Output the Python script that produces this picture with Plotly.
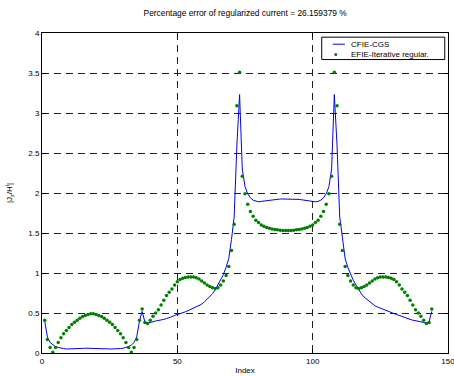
import plotly.graph_objects as go

idx = list(range(1, 145))

cfie_cgs = [
    0.40, 0.20, 0.13, 0.10, 0.08, 0.07, 0.06, 0.055, 0.05, 0.05, 0.05, 0.05,
    0.052, 0.055, 0.058, 0.06, 0.06, 0.06, 0.06, 0.06, 0.06, 0.058, 0.055, 0.052,
    0.05, 0.05, 0.05, 0.05, 0.055, 0.06, 0.07, 0.08, 0.10, 0.13, 0.20, 0.40,
    0.52, 0.39, 0.375, 0.38, 0.39, 0.40, 0.405, 0.41, 0.42, 0.43, 0.44, 0.455,
    0.47, 0.48, 0.49, 0.50, 0.515, 0.53, 0.545, 0.56, 0.575, 0.59, 0.61, 0.64,
    0.67, 0.70, 0.74, 0.79, 0.85, 0.91, 0.98, 1.07, 1.18, 1.42, 1.70, 2.60,
    3.23, 2.30, 2.08, 1.99, 1.94, 1.91, 1.895, 1.89, 1.895, 1.90, 1.905, 1.91,
    1.915, 1.92, 1.925, 1.925, 1.925, 1.925,
    1.925, 1.925, 1.925, 1.925, 1.92, 1.915, 1.91, 1.905, 1.90, 1.895, 1.89, 1.895,
    1.91, 1.94, 1.99, 2.08, 2.30, 3.23, 2.60, 1.70, 1.42, 1.18, 1.07, 0.98,
    0.91, 0.85, 0.79, 0.74, 0.70, 0.67, 0.64, 0.61, 0.59, 0.575, 0.56, 0.545,
    0.53, 0.515, 0.50, 0.49, 0.48, 0.47, 0.455, 0.44, 0.43, 0.42, 0.41, 0.405,
    0.40, 0.39, 0.38, 0.375, 0.39, 0.52,
]

efie_iter = [
    0.41, 0.17, 0.07, 0.01, 0.07, 0.13, 0.19, 0.24, 0.28, 0.32, 0.355, 0.385,
    0.41, 0.435, 0.455, 0.47, 0.48, 0.49, 0.49, 0.48, 0.47, 0.455, 0.435, 0.41,
    0.385, 0.355, 0.32, 0.28, 0.24, 0.19, 0.13, 0.07, 0.01, 0.07, 0.17, 0.41,
    0.55, 0.38, 0.37, 0.41, 0.46, 0.50, 0.54, 0.60, 0.66, 0.72, 0.76, 0.80,
    0.85, 0.89, 0.92, 0.935, 0.945, 0.95, 0.95, 0.95, 0.94, 0.925, 0.90, 0.875,
    0.85, 0.83, 0.815, 0.805, 0.815, 0.85, 0.90, 0.97, 1.08, 1.28, 1.61, 3.09,
    3.51, 2.21, 1.99, 1.86, 1.77, 1.71, 1.66, 1.63, 1.60, 1.585, 1.57, 1.56,
    1.55, 1.545, 1.54, 1.535, 1.53, 1.53,
    1.53, 1.53, 1.535, 1.54, 1.545, 1.55, 1.56, 1.57, 1.585, 1.60, 1.63, 1.66,
    1.71, 1.77, 1.86, 1.99, 2.21, 3.51, 3.09, 1.61, 1.28, 1.08, 0.97, 0.90,
    0.85, 0.815, 0.805, 0.815, 0.83, 0.85, 0.875, 0.90, 0.925, 0.94, 0.95, 0.95,
    0.95, 0.945, 0.935, 0.92, 0.89, 0.85, 0.80, 0.76, 0.72, 0.66, 0.60, 0.54,
    0.50, 0.46, 0.41, 0.37, 0.38, 0.55,
]

series_names = ["CFIE-CGS", "EFIE-Iterative regular."]
x_ticks = [0, 50, 100, 150]
y_ticks = [0, 0.5, 1, 1.5, 2, 2.5, 3, 3.5, 4]
y_tick_labels = ["0", "0.5", "1", "1.5", "2", "2.5", "3", "3.5", "4"]

title_text = "Percentage error of regularized current = 26.159379 %"

BLUE = "#0000ff"
GREEN = "#008000"

fig = go.Figure()
fig.add_trace(go.Scatter(
    x=idx, y=cfie_cgs, mode="lines", name=series_names[0],
    line=dict(color=BLUE, width=1),
))
fig.add_trace(go.Scatter(
    x=idx, y=efie_iter, mode="markers", name=series_names[1],
    marker=dict(color=GREEN, size=3.5, line=dict(width=0)),
))

font = dict(family="Liberation Sans, Arial, sans-serif", size=8, color="black")

axis_common = dict(
    showline=True, linecolor="black", linewidth=1, mirror="allticks",
    ticks="inside", ticklen=4, tickcolor="black", tickwidth=1,
    showgrid=True, gridcolor="#222222", gridwidth=1, griddash="7px,5px",
    zeroline=False, tickfont=font, ticklabeloverflow="allow",
)

# compact MATLAB-style legend (box, line sample, dot sample, labels)
lg_x0, lg_x1, lg_y0, lg_y1 = 0.689, 0.992, 0.917, 0.987
row1_y, row2_y = 0.965, 0.933
shapes = [
    dict(type="rect", xref="paper", yref="paper", x0=lg_x0, x1=lg_x1,
         y0=lg_y0, y1=lg_y1, line=dict(color="black", width=1),
         fillcolor="white", layer="above"),
    dict(type="line", xref="paper", yref="paper", x0=0.716, x1=0.746,
         y0=row1_y, y1=row1_y, line=dict(color=BLUE, width=1), layer="above"),
    dict(type="circle", xref="paper", yref="paper", x0=0.7198, x1=0.7272,
         y0=row2_y - 0.0048, y1=row2_y + 0.0048,
         line=dict(width=0), fillcolor=GREEN, layer="above"),
]
annotations = [
    dict(text=series_names[0], xref="paper", yref="paper", x=0.757, y=row1_y,
         xanchor="left", yanchor="middle", showarrow=False, font=font),
    dict(text=series_names[1], xref="paper", yref="paper", x=0.757, y=row2_y,
         xanchor="left", yanchor="middle", showarrow=False, font=font),
]

fig.update_layout(
    width=454, height=376,
    margin=dict(l=42, r=6, t=33, b=23, autoexpand=False),
    paper_bgcolor="white", plot_bgcolor="white",
    font=font,
    title=dict(text=title_text, x=0.54, xanchor="center",
               y=1 - 13 / 376, yanchor="middle",
               font=dict(family=font["family"], size=8.4, color="black")),
    xaxis=dict(range=[0, 150], tickvals=x_ticks,
               title=dict(text="Index", font=font, standoff=2), **axis_common),
    yaxis=dict(range=[0, 4], tickvals=y_ticks, ticktext=y_tick_labels,
               title=dict(text="|J<sub>z</sub>/H<sup>i</sup>|", font=font, standoff=14),
               **axis_common),
    showlegend=False,
    shapes=shapes,
    annotations=annotations,
)

fig.write_html("out.html")
